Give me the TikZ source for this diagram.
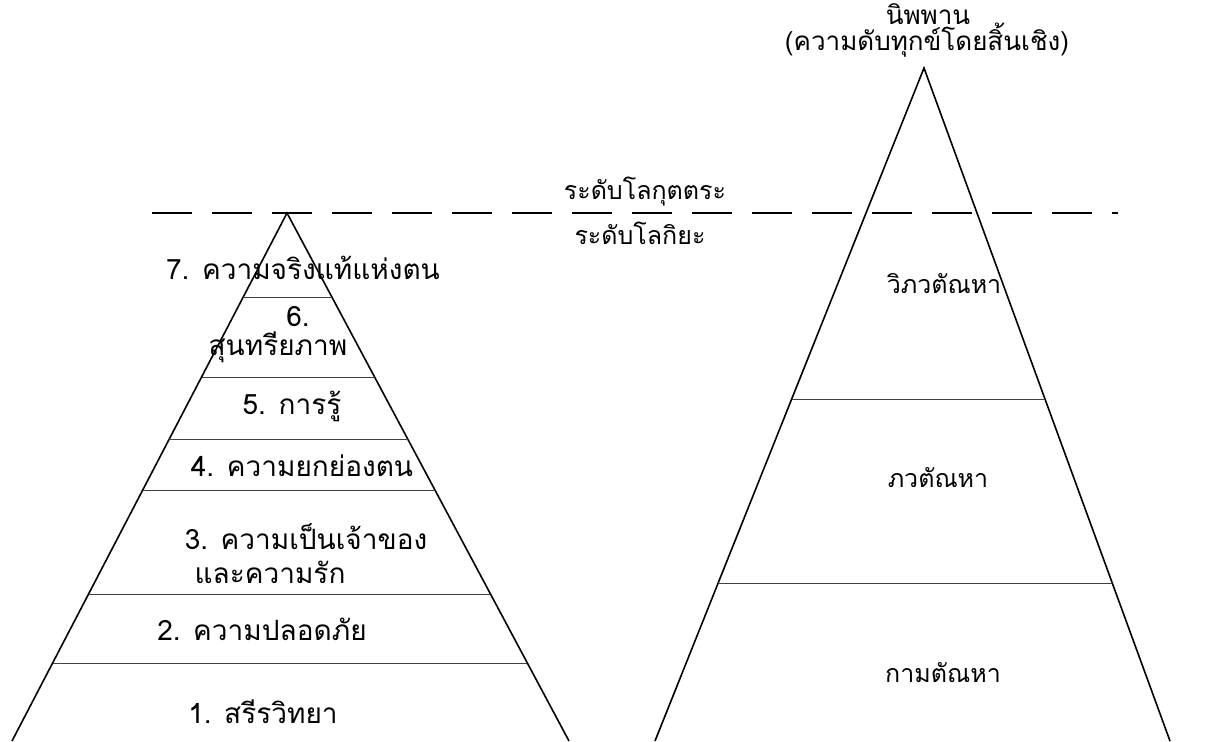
\documentclass[tikz,border=0pt]{standalone}
\usepackage{fontspec}
\newfontfamily\thaifont[Script=Thai]{Loma}
\usetikzlibrary{calc}
\tikzset{
  lbl/.style={font=\thaifont\fontsize{12.5}{15}\selectfont, inner sep=1pt, align=center},
  tierlbl/.style={lbl, font=\thaifont\fontsize{14}{16}\selectfont},
  toplbl/.style={lbl, font=\thaifont\fontsize{13}{15}\selectfont},
  side/.style={line width=0.8pt, color=black},
  tier/.style={line width=0.45pt, color=black!75},
  level/.style={line width=0.9pt, dash pattern=on 20pt off 10pt},
}

\begin{document}
\begin{tikzpicture}[x=0.5pt, y=-0.5pt]
    \useasboundingbox (0,0) rectangle (1207,741);
    % level divider
    \coordinate (dl) at (152,213);
    \coordinate (dr) at (1118,213);
    \draw[level] (dl) -- (dr);
    \node[lbl] (lokut) at (645,191) {ระดับโลกุตตระ};
    \node[lbl] (lokiya) at (640,233) {ระดับโลกิยะ};
    % needs pyramid
    \coordinate (lapex) at (287,213);
    \coordinate (lbl) at (12,741);
    \coordinate (lbr) at (569,741);
    \draw[side] (lbl) -- (lapex) -- (lbr);
    \foreach \y in {297,377,439,490,594,663}
      \draw[tier] ($(lapex)!{(\y-213)/528}!(lbl)$) -- ($(lapex)!{(\y-213)/528}!(lbr)$);
    \node[tierlbl] (n7) at (303,268) {7. ความจริงแท้แห่งตน};
    \node[tierlbl] (n6) at (298,317) {6.};
    \node[tierlbl] (n6b) at (278,347) {สุนทรียภาพ};
    \node[tierlbl] (n5) at (292,406) {5. การรู้};
    \node[tierlbl] (n4) at (302,466) {4. ความยกย่องตน};
    \node[tierlbl] (n3) at (306,537) {3. ความเป็นเจ้าของ};
    \node[tierlbl] (n3b) at (270,572) {และความรัก};
    \node[tierlbl] (n2) at (262,629) {2. ความปลอดภัย};
    \node[tierlbl] (n1) at (263,712) {1. สรีรวิทยา};
    % craving pyramid
    \coordinate (rapex) at (924,68);
    \coordinate (rbl) at (655,741);
    \coordinate (rbr) at (1170,741);
    \draw[side] (rbl) -- (rapex) -- (rbr);
    \foreach \y in {399,583}
      \draw[tier] ($(rapex)!{(\y-68)/673}!(rbl)$) -- ($(rapex)!{(\y-68)/673}!(rbr)$);
    \node[toplbl] (nib) at (928,14) {นิพพาน};
    \node[toplbl] (nibdef) at (927,40) {(ความดับทุกข์โดยสิ้นเชิง)};
    \node[lbl] (vibhava) at (944,284) {วิภวตัณหา};
    \node[lbl] (bhava) at (938,478) {ภวตัณหา};
    \node[lbl] (kama) at (943,673) {กามตัณหา};
\end{tikzpicture}
\end{document}
